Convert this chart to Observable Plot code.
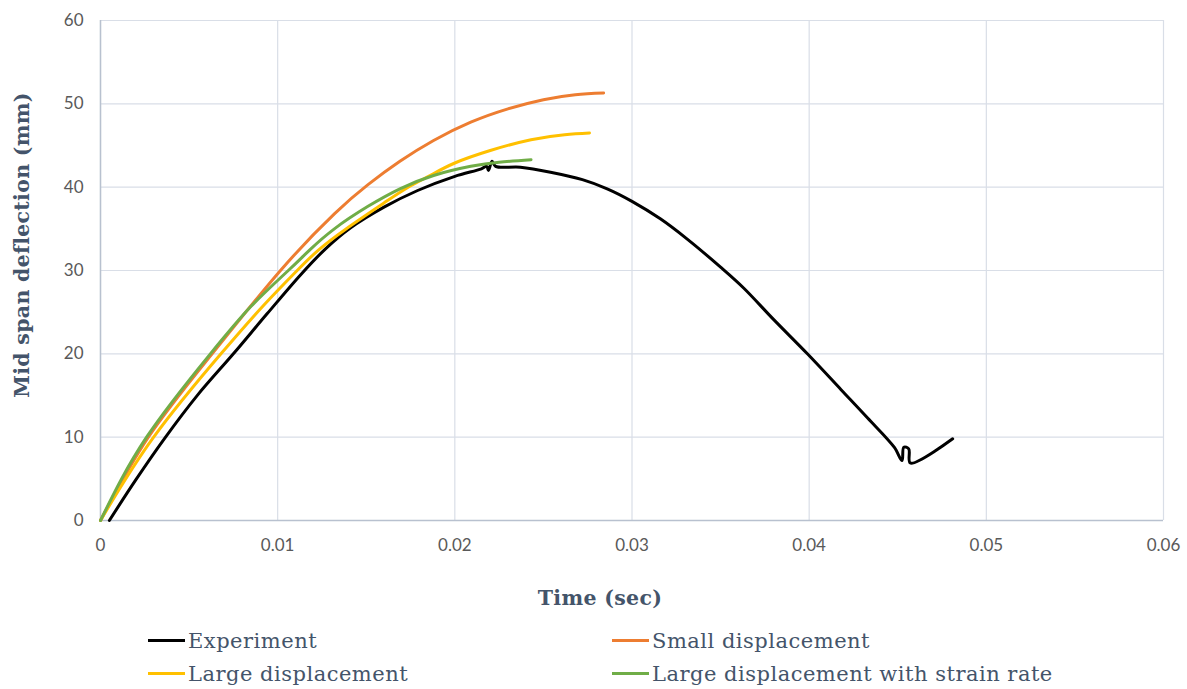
<!DOCTYPE html>
<html><head><meta charset="utf-8">
<script src="https://cdn.jsdelivr.net/npm/d3@7"></script>
<script src="https://cdn.jsdelivr.net/npm/@observablehq/plot@0.6"></script>
<style>
body{margin:0;background:#fff;width:1187px;height:689px;position:relative;overflow:hidden}
#chart{position:absolute;left:0;top:0}
.lbl{position:absolute;font-family:"DejaVu Serif","Liberation Serif",serif;color:#44546A;white-space:nowrap}
.ttl{font-weight:bold;font-size:20.5px;letter-spacing:0.3px}
.leg{font-size:21px;line-height:24px;letter-spacing:0.5px}
.sw{position:absolute;height:3px;width:37px}
</style></head>
<body>
<div id="chart"></div>
<div class="lbl ttl" id="xlab" style="left:600px;top:598px;transform:translate(-50%,-50%)">Time (sec)</div>
<div class="lbl ttl" id="ylab" style="left:22px;top:245px;transform:translate(-50%,-50%) rotate(-90deg)">Mid span deflection (mm)</div>
<div id="legend"></div>
<script>
const seriesNames = ["Experiment","Small displacement","Large displacement","Large displacement with strain rate"];
const seriesColors = ["#000000","#ED7D31","#FFC000","#70AD47"];
const xTicks = [0,0.01,0.02,0.03,0.04,0.05,0.06];
const yTicks = [0,10,20,30,40,50,60];

const expT = [0.0005,0.0020,0.0036,0.0055,0.0075,0.0094,0.0113,0.0127,0.0141,0.0160,0.0179,0.0200,0.0215,0.0218,0.0219,0.0221,0.0223,0.0237,0.0254,0.0272,0.0286,0.0300,0.0316,0.0331,0.0350,0.0363,0.0380,0.0399,0.0418,0.0433,0.0448,0.04524,0.04534,0.04562,0.04571,0.0481];
const expV = [0,4.9,9.8,15.1,20.0,24.8,29.5,32.6,35.1,37.6,39.6,41.3,42.2,42.5,42.0,43.1,42.5,42.4,41.8,40.9,39.8,38.3,36.2,33.8,30.4,27.9,24.1,20.0,15.7,12.3,8.8,7.2,8.8,8.6,6.9,9.8];

const smallT = [0,0.0027,0.0063,0.01016,0.0132,0.0151,0.0169,0.0188,0.0209,0.0230,0.0250,0.0268,0.0284];
const smallV = [0,10,20,30,36.8,40.3,43.1,45.6,47.8,49.4,50.5,51.1,51.3];

const largeT = [0,0.0030,0.0068,0.0092,0.0111,0.0123,0.0138,0.0160,0.0173,0.0186,0.0200,0.0220,0.0243,0.0262,0.0276];
const largeV = [0,10,20,25.8,30,32.45,34.9,38.1,39.9,41.4,42.9,44.4,45.7,46.3,46.5];

const srT = [0,0.0026,0.0062,0.0085,0.0106,0.0118,0.0132,0.0151,0.0169,0.0188,0.0209,0.0225,0.0243];
const srV = [0,10,20,25.7,30,32.45,35.0,37.7,39.8,41.4,42.5,43.0,43.3];

const allT = [expT, smallT, largeT, srT];
const allV = [expV, smallV, largeV, srV];
const rows = [];
allT.forEach((ts, s) => ts.forEach((t, i) => rows.push({series: seriesNames[s], t, v: allV[s][i]})));
const expRows = rows.filter(d => d.series === seriesNames[0]);
const simRows = rows.filter(d => d.series !== seriesNames[0]);

const chart = Plot.plot({
  width: 1187, height: 570,
  marginTop: 20, marginBottom: 50, marginLeft: 100, marginRight: 24,
  style: {fontFamily: "Lato, 'Open Sans', sans-serif", fontSize: "17px", color: "#595959", background: "#fff"},
  x: {domain: [0, 0.06], ticks: xTicks, tickFormat: d => d === 0 ? "0" : d3.format(".2f")(d), label: null, tickSize: 0, tickPadding: 18},
  y: {domain: [0, 60], ticks: yTicks, label: null, tickSize: 0, tickPadding: 17},
  color: {domain: seriesNames, range: seriesColors},
  marks: [
    Plot.gridX(xTicks, {stroke: "#D9DEE7", strokeOpacity: 1, strokeWidth: 1.2}),
    Plot.gridY(yTicks, {stroke: "#D9DEE7", strokeOpacity: 1, strokeWidth: 1.2}),
    Plot.ruleX([0], {stroke: "#B8C1CF", strokeWidth: 1.5}),
    Plot.ruleY([0], {stroke: "#B8C1CF", strokeWidth: 1.5}),
    Plot.line(expRows, {x: "t", y: "v", stroke: "series", strokeWidth: 3, strokeLinejoin: "round", curve: "catmull-rom"}),
    Plot.line(simRows, {x: "t", y: "v", z: "series", stroke: "series", strokeWidth: 3, strokeLinejoin: "round", curve: "natural"})
  ]
});
document.getElementById("chart").appendChild(chart);

const legPos = [[148,629],[612,629],[148,662],[612,662]];
const leg = document.getElementById("legend");
seriesNames.forEach((n, i) => {
  const [x, y] = legPos[i];
  const sw = document.createElement("div");
  sw.className = "sw"; sw.style.left = x + "px"; sw.style.top = (y + 10) + "px"; sw.style.background = seriesColors[i];
  leg.appendChild(sw);
  const tx = document.createElement("div");
  tx.className = "lbl leg"; tx.style.left = (x + 40) + "px"; tx.style.top = y + "px"; tx.textContent = n;
  leg.appendChild(tx);
});
</script>
</body></html>
